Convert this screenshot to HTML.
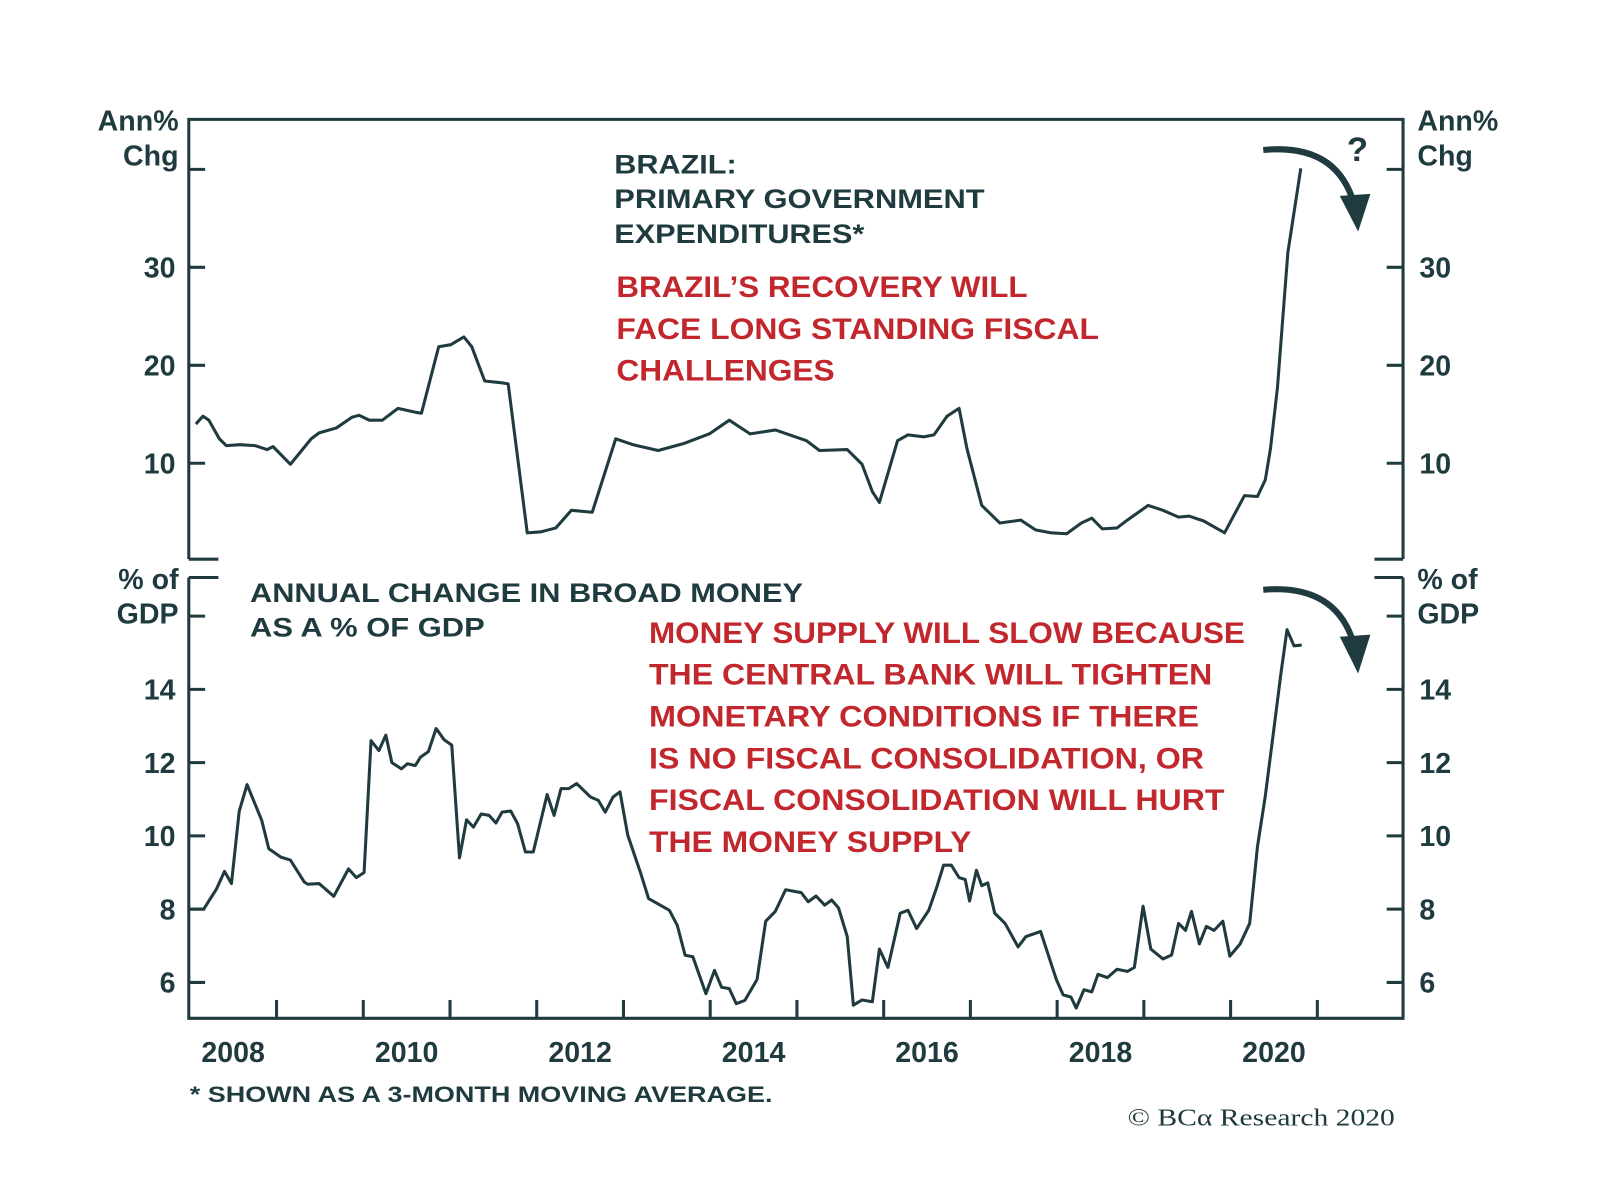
<!DOCTYPE html>
<html><head><meta charset="utf-8"><style>
html,body{margin:0;padding:0;background:#fff;}
svg{display:block;font-family:"Liberation Sans",sans-serif;font-weight:bold;}
</style></head><body>
<svg id="chart" width="1600" height="1202" viewBox="0 0 1568 1178" xmlns="http://www.w3.org/2000/svg">
<g id="axes"></g>
<g id="labels" fill="#1f3b3f" font-size="26" lengthAdjust="spacingAndGlyphs">
<text x="175" y="128" text-anchor="end" font-size="28">Ann%</text>
<text x="175" y="162" text-anchor="end" font-size="28">Chg</text>
<text x="1389" y="128" font-size="28">Ann%</text>
<text x="1389" y="162" font-size="28">Chg</text>
<text x="175" y="577" text-anchor="end" font-size="28">% of</text>
<text x="175" y="611" text-anchor="end" font-size="28">GDP</text>
<text x="1389" y="577" font-size="28">% of</text>
<text x="1389" y="611" font-size="28">GDP</text>
<text x="602" y="170" textLength="120" lengthAdjust="spacingAndGlyphs">BRAZIL:</text>
<text x="602" y="204" textLength="363" lengthAdjust="spacingAndGlyphs">PRIMARY GOVERNMENT</text>
<text x="602" y="238" textLength="245" lengthAdjust="spacingAndGlyphs">EXPENDITURES*</text>
<text x="245" y="590" textLength="542" lengthAdjust="spacingAndGlyphs">ANNUAL CHANGE IN BROAD MONEY</text>
<text x="245" y="624" textLength="230" lengthAdjust="spacingAndGlyphs">AS A % OF GDP</text>
<g fill="#c1272d" font-size="29">
<text x="604" y="291" textLength="403" lengthAdjust="spacingAndGlyphs">BRAZIL’S RECOVERY WILL</text>
<text x="604" y="332" textLength="473" lengthAdjust="spacingAndGlyphs">FACE LONG STANDING FISCAL</text>
<text x="604" y="373" textLength="214" lengthAdjust="spacingAndGlyphs">CHALLENGES</text>
<text x="636" y="630" textLength="584" lengthAdjust="spacingAndGlyphs">MONEY SUPPLY WILL SLOW BECAUSE</text>
<text x="636" y="671" textLength="552" lengthAdjust="spacingAndGlyphs">THE CENTRAL BANK WILL TIGHTEN</text>
<text x="636" y="712" textLength="539" lengthAdjust="spacingAndGlyphs">MONETARY CONDITIONS IF THERE</text>
<text x="636" y="753" textLength="544" lengthAdjust="spacingAndGlyphs">IS NO FISCAL CONSOLIDATION, OR</text>
<text x="636" y="794" textLength="564" lengthAdjust="spacingAndGlyphs">FISCAL CONSOLIDATION WILL HURT</text>
<text x="636" y="835" textLength="316" lengthAdjust="spacingAndGlyphs">THE MONEY SUPPLY</text>
</g>
<text x="186" y="1080" font-size="22" textLength="571" lengthAdjust="spacingAndGlyphs">* SHOWN AS A 3-MONTH MOVING AVERAGE.</text>
<text x="1105" y="1103" font-size="24" font-weight="normal" font-family="'Liberation Serif',serif" textLength="262" lengthAdjust="spacingAndGlyphs">© BCα Research 2020</text>
<text x="1320" y="158" font-size="34">?</text>
</g>
<g fill="none" stroke="#1f3b3f" stroke-width="6">
<path d="M1238,147 Q1310,140 1327,200"/>
<path d="M1238,578 Q1310,572 1327,632"/>
<polygon points="1313,192 1343,190 1331,227" fill="#1f3b3f" stroke="none"/>
<polygon points="1313,624 1343,622 1331,660" fill="#1f3b3f" stroke="none"/>
</g>
<g id="series"></g>
</svg>
<script>
const topDates=[2008.07,2008.15,2008.22,2008.34,2008.42,2008.58,2008.75,2008.89,2008.96,2009.16,2009.40,2009.49,2009.69,2009.87,2009.95,2010.07,2010.22,2010.40,2010.61,2010.67,2010.87,2011.01,2011.16,2011.25,2011.40,2011.61,2011.67,2011.89,2012.05,2012.22,2012.40,2012.64,2012.91,2013.11,2013.40,2013.69,2013.99,2014.22,2014.46,2014.75,2015.11,2015.26,2015.58,2015.75,2015.87,2015.95,2016.16,2016.28,2016.46,2016.58,2016.73,2016.87,2016.96,2017.13,2017.34,2017.58,2017.75,2017.93,2018.11,2018.28,2018.40,2018.52,2018.69,2018.81,2019.05,2019.22,2019.40,2019.52,2019.69,2019.93,2020.16,2020.31,2020.40,2020.46,2020.54,2020.66,2020.81];
const topValues=[14.0,14.8,14.4,12.5,11.8,11.9,11.8,11.4,11.7,9.9,12.5,13.1,13.6,14.7,14.9,14.4,14.4,15.6,15.2,15.1,21.9,22.1,22.9,21.9,18.4,18.2,18.1,2.9,3.0,3.4,5.2,5.0,12.5,11.9,11.3,12.0,13.0,14.4,13.0,13.4,12.3,11.3,11.4,9.9,7.1,6.0,12.3,12.9,12.7,12.9,14.8,15.6,11.5,5.7,3.9,4.2,3.2,2.9,2.8,3.9,4.4,3.3,3.4,4.2,5.7,5.2,4.5,4.6,4.1,2.9,6.7,6.6,8.3,11.5,17.7,31.5,40.1];
const botDates=[2008.0,2008.16,2008.31,2008.40,2008.48,2008.57,2008.66,2008.83,2008.91,2009.05,2009.16,2009.32,2009.36,2009.49,2009.66,2009.83,2009.92,2010.01,2010.09,2010.18,2010.26,2010.33,2010.44,2010.51,2010.60,2010.66,2010.75,2010.84,2010.93,2011.02,2011.11,2011.19,2011.27,2011.36,2011.45,2011.53,2011.60,2011.70,2011.78,2011.87,2011.96,2012.12,2012.20,2012.28,2012.37,2012.46,2012.62,2012.71,2012.79,2012.88,2012.96,2013.05,2013.20,2013.29,2013.53,2013.62,2013.71,2013.80,2013.95,2014.05,2014.13,2014.22,2014.30,2014.40,2014.54,2014.64,2014.75,2014.87,2015.05,2015.13,2015.22,2015.32,2015.40,2015.48,2015.58,2015.65,2015.75,2015.87,2015.95,2016.05,2016.19,2016.28,2016.38,2016.52,2016.61,2016.69,2016.78,2016.87,2016.94,2016.99,2017.07,2017.13,2017.20,2017.28,2017.40,2017.55,2017.64,2017.81,2017.99,2018.07,2018.16,2018.22,2018.31,2018.40,2018.47,2018.58,2018.69,2018.81,2018.89,2018.99,2019.08,2019.22,2019.32,2019.40,2019.48,2019.55,2019.64,2019.72,2019.81,2019.91,2019.99,2020.11,2020.22,2020.31,2020.40,2020.49,2020.58,2020.65,2020.73,2020.82];
const botValues=[8.0,8.0,8.56,9.03,8.7,10.67,11.4,10.42,9.65,9.42,9.34,8.74,8.68,8.7,8.35,9.1,8.86,9.0,12.6,12.33,12.75,12.0,11.83,11.97,11.92,12.15,12.3,12.93,12.63,12.48,9.4,10.44,10.24,10.6,10.56,10.35,10.65,10.68,10.33,9.56,9.56,11.13,10.56,11.29,11.29,11.43,11.06,10.97,10.65,11.06,11.2,10.02,8.97,8.29,7.97,7.56,6.74,6.7,5.69,6.33,5.87,5.83,5.42,5.51,6.08,7.67,7.94,8.53,8.45,8.2,8.36,8.11,8.25,8.03,7.25,5.38,5.52,5.47,6.91,6.41,7.89,7.97,7.47,7.97,8.58,9.2,9.2,8.86,8.81,8.22,9.06,8.64,8.72,7.89,7.61,6.97,7.25,7.39,6.08,5.66,5.6,5.3,5.8,5.74,6.22,6.13,6.36,6.3,6.41,8.08,6.91,6.64,6.75,7.61,7.42,7.94,7.05,7.53,7.42,7.67,6.72,7.05,7.61,9.7,11.09,12.76,14.43,15.63,15.19,15.21];
const topTicks=[10,20,30,40];
const topTickLabels=["10","20","30",""];
const botTicks=[6,8,10,12,14,16];
const botTickLabels=["6","8","10","12","14",""];
const yearLabels=[2008,2010,2012,2014,2016,2018,2020];

const NS="http://www.w3.org/2000/svg";
const L=185,R=1375,C="#1f3b3f";
const xS=t=>186+(t-2008)*85;
const yTop=v=>454-(v-10)*9.6;
const yBot=v=>891-(v-8)*35.9;
const axes=document.getElementById('axes');
const series=document.getElementById('series');
function mk(tag,attrs,parent){const e=document.createElementNS(NS,tag);for(const k in attrs)e.setAttribute(k,attrs[k]);parent.appendChild(e);return e;}
let p=mk('path',{d:`M${L},548 L${L},117 L${R},117 L${R},548 M${L},548 L214,548 M${R},548 L1347,548 M${L},566 L${L},998 L${R},998 L${R},566 M${L},566 L214,566 M${R},566 L1347,566`,fill:'none',stroke:C,'stroke-width':3},axes);


topTicks.forEach((v,i)=>{
 const y=yTop(v);
 const t=mk('path',{d:`M${L},${y} L${L+16},${y} M${R},${y} L${R-16},${y}`,stroke:C,'stroke-width':3},axes);
 
 
 if(topTickLabels[i]){
  const a=mk('text',{x:172,y:y+10,'text-anchor':'end','font-size':28,fill:C},axes);a.textContent=topTickLabels[i];
  
  
  const b=mk('text',{x:1391,y:y+10,'font-size':28,fill:C},axes);b.textContent=topTickLabels[i];
  
  
 }
});
botTicks.forEach((v,i)=>{
 const y=yBot(v);
 const t=mk('path',{d:`M${L},${y} L${L+16},${y} M${R},${y} L${R-16},${y}`,stroke:C,'stroke-width':3},axes);
 
 
 if(botTickLabels[i]){
  const a=mk('text',{x:172,y:y+10,'text-anchor':'end','font-size':28,fill:C},axes);a.textContent=botTickLabels[i];
  
  
  const b=mk('text',{x:1391,y:y+10,'font-size':28,fill:C},axes);b.textContent=botTickLabels[i];
  
  
 }
});
for(let yr=2009;yr<=2021;yr++){
 const x=xS(yr);
 const t=mk('path',{d:`M${x},998 L${x},980`,stroke:C,'stroke-width':3},axes);
 
 
}
yearLabels.forEach(yr=>{
 const a=mk('text',{x:xS(yr+0.5),y:1041,'text-anchor':'middle','font-size':28,fill:C},axes);a.textContent=String(yr);
 
 
});
function line(dates,vals,yf,name){
 const d=dates.map((t,i)=>(i?'L':'M')+xS(t).toFixed(1)+','+yf(vals[i]).toFixed(1)).join(' ');
 const e=mk('path',{d,fill:'none',stroke:C,'stroke-width':3,'stroke-linejoin':'round'},series);
 
 
}
line(topDates,topValues,yTop,'expenditures-line');
line(botDates,botValues,yBot,'broad-money-line');
</script>
</body></html>
